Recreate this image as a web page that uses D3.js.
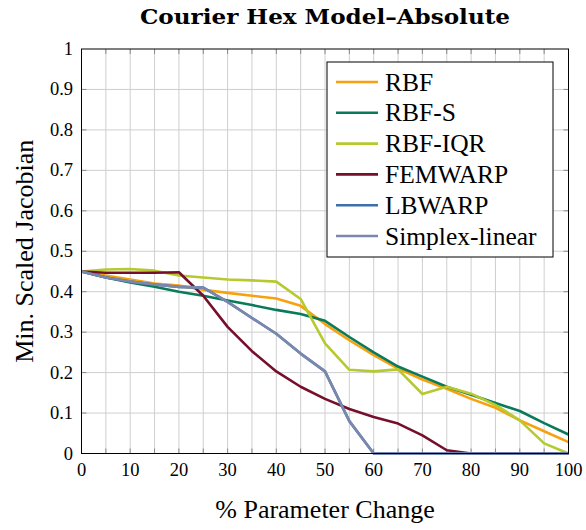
<!DOCTYPE html>
<html>
<head>
<meta charset="UTF-8">
<title>Courier Hex Model</title>
<script src="https://d3js.org/d3.v7.min.js"></script>
<style>
    body { margin: 0; background: #fff; }
    text { font-family: "Liberation Serif", "DejaVu Serif", serif; fill: #000; }
</style>
</head>
<body>
<svg id="chart" width="586" height="530"></svg>
<script>
    // percent parameter change
    var xs = [0, 5, 10, 15, 20, 25, 30, 35, 40, 45, 50, 55, 60, 65, 70, 75, 80, 85, 90, 95, 100];

    var rbf = [0.45, 0.44, 0.43, 0.42, 0.415, 0.405, 0.397, 0.39, 0.383, 0.365, 0.32, 0.28, 0.243, 0.21, 0.183, 0.16, 0.135, 0.113, 0.082, 0.055, 0.028];
    var rbfS = [0.45, 0.435, 0.423, 0.412, 0.4, 0.39, 0.378, 0.367, 0.355, 0.345, 0.328, 0.288, 0.25, 0.215, 0.19, 0.165, 0.145, 0.125, 0.105, 0.075, 0.047];
    var rbfIQR = [0.45, 0.455, 0.456, 0.452, 0.44, 0.435, 0.43, 0.428, 0.425, 0.382, 0.272, 0.207, 0.203, 0.208, 0.147, 0.165, 0.148, 0.12, 0.082, 0.025, 0];
    var femwarp = [0.45, 0.447, 0.447, 0.447, 0.448, 0.39, 0.313, 0.253, 0.203, 0.165, 0.135, 0.11, 0.09, 0.074, 0.045, 0.008, 0, 0, 0, 0, 0];
    var lbwarp = [0.45, 0.435, 0.425, 0.418, 0.412, 0.41, 0.375, 0.335, 0.296, 0.247, 0.203, 0.08, 0, 0, 0, 0, 0, 0, 0, 0, 0];
    var simplex = [0.45, 0.435, 0.425, 0.418, 0.412, 0.41, 0.375, 0.335, 0.296, 0.247, 0.203, 0.08, 0, 0, 0, 0, 0, 0, 0, 0, 0];

    var seriesNames = ["RBF", "RBF-S", "RBF-IQR", "FEMWARP", "LBWARP", "Simplex-linear"];
    var seriesValues = [rbf, rbfS, rbfIQR, femwarp, lbwarp, simplex];
    var seriesColors = ["#f8a10f", "#0a7a5a", "#b6c92f", "#760f2b", "#3d6ea8", "#7b88ae"];

    var xTicks = [0, 10, 20, 30, 40, 50, 60, 70, 80, 90, 100];
    var yTicks = [0, 0.1, 0.2, 0.3, 0.4, 0.5, 0.6, 0.7, 0.8, 0.9, 1];

    var svg = d3.select("#chart");
    var pLeft = 81.5, pRight = 568.5, pTop = 49, pBottom = 453.5;

    var x = d3.scaleLinear().domain([0, 100]).range([pLeft, pRight]);
    var y = d3.scaleLinear().domain([0, 1]).range([pBottom, pTop]);

    // grid
    var grid = svg.append("g");
    grid.selectAll("line.vx").data(d3.range(5, 100, 5)).enter().append("line")
        .attr("x1", function (d) { return x(d); }).attr("x2", function (d) { return x(d); })
        .attr("y1", pTop).attr("y2", pBottom)
        .attr("stroke", "#cfcfcf").attr("stroke-width", 1);
    grid.selectAll("line.hy").data(yTicks.slice(1, -1)).enter().append("line")
        .attr("y1", function (d) { return y(d); }).attr("y2", function (d) { return y(d); })
        .attr("x1", pLeft).attr("x2", pRight)
        .attr("stroke", "#cfcfcf").attr("stroke-width", 1);

    // small inner ticks on all sides
    var ticks = svg.append("g").attr("stroke", "#8a8a8a").attr("stroke-width", 1);
    d3.range(5, 100, 5).forEach(function (d) {
        ticks.append("line").attr("x1", x(d)).attr("x2", x(d)).attr("y1", pTop).attr("y2", pTop + 5);
        ticks.append("line").attr("x1", x(d)).attr("x2", x(d)).attr("y1", pBottom).attr("y2", pBottom - 5);
    });
    yTicks.slice(1, -1).forEach(function (d) {
        ticks.append("line").attr("y1", y(d)).attr("y2", y(d)).attr("x1", pLeft).attr("x2", pLeft + 5);
        ticks.append("line").attr("y1", y(d)).attr("y2", y(d)).attr("x1", pRight).attr("x2", pRight - 5);
    });

    // series
    var line = d3.line()
        .x(function (d, i) { return x(xs[i]); })
        .y(function (d) { return y(d); });

    seriesValues.forEach(function (vals, k) {
        svg.append("path")
            .datum(vals)
            .attr("d", line)
            .attr("fill", "none")
            .attr("stroke", seriesColors[k])
            .attr("stroke-width", 2.6)
            .attr("stroke-linejoin", "round");
    });

    // frame
    svg.append("rect")
        .attr("x", pLeft).attr("y", pTop)
        .attr("width", pRight - pLeft).attr("height", pBottom - pTop)
        .attr("fill", "none").attr("stroke", "#000").attr("stroke-width", 1);

    // tick labels
    svg.selectAll("text.xt").data(xTicks).enter().append("text")
        .attr("x", function (d) { return x(d); })
        .attr("y", 476)
        .attr("text-anchor", "middle")
        .style("font-size", "18.5px")
        .text(function (d) { return d; });

    svg.selectAll("text.yt").data(yTicks).enter().append("text")
        .attr("x", 73)
        .attr("y", function (d) { return y(d) + 6; })
        .attr("text-anchor", "end")
        .style("font-size", "18.5px")
        .text(function (d) { return d; });

    // titles
    svg.append("text")
        .attr("x", 325).attr("y", 24)
        .attr("text-anchor", "middle")
        .attr("textLength", 370).attr("lengthAdjust", "spacingAndGlyphs")
        .style("font-family", "'DejaVu Serif', serif")
        .style("font-size", "20px").style("font-weight", "bold")
        .text("Courier Hex Model\u2013Absolute");

    svg.append("text")
        .attr("x", 325).attr("y", 518)
        .attr("text-anchor", "middle")
        .style("font-size", "26px")
        .text("% Parameter Change");

    svg.append("text")
        .attr("transform", "translate(33," + ((pTop + pBottom) / 2) + ") rotate(-90)")
        .attr("text-anchor", "middle")
        .style("font-size", "26px")
        .text("Min. Scaled Jacobian");

    // legend
    var lg = svg.append("g").attr("transform", "translate(327,62)");
    lg.append("rect")
        .attr("width", 226).attr("height", 195)
        .attr("fill", "#fff").attr("stroke", "#000").attr("stroke-width", 1);
    seriesNames.forEach(function (name, k) {
        var yy = 20 + k * 30.8;
        lg.append("line")
            .attr("x1", 9).attr("x2", 51).attr("y1", yy).attr("y2", yy)
            .attr("stroke", seriesColors[k]).attr("stroke-width", 2.6);
        lg.append("text")
            .attr("x", 58).attr("y", yy + 8.5)
            .style("font-size", "25.5px")
            .text(name);
    });
</script>
</body>
</html>
